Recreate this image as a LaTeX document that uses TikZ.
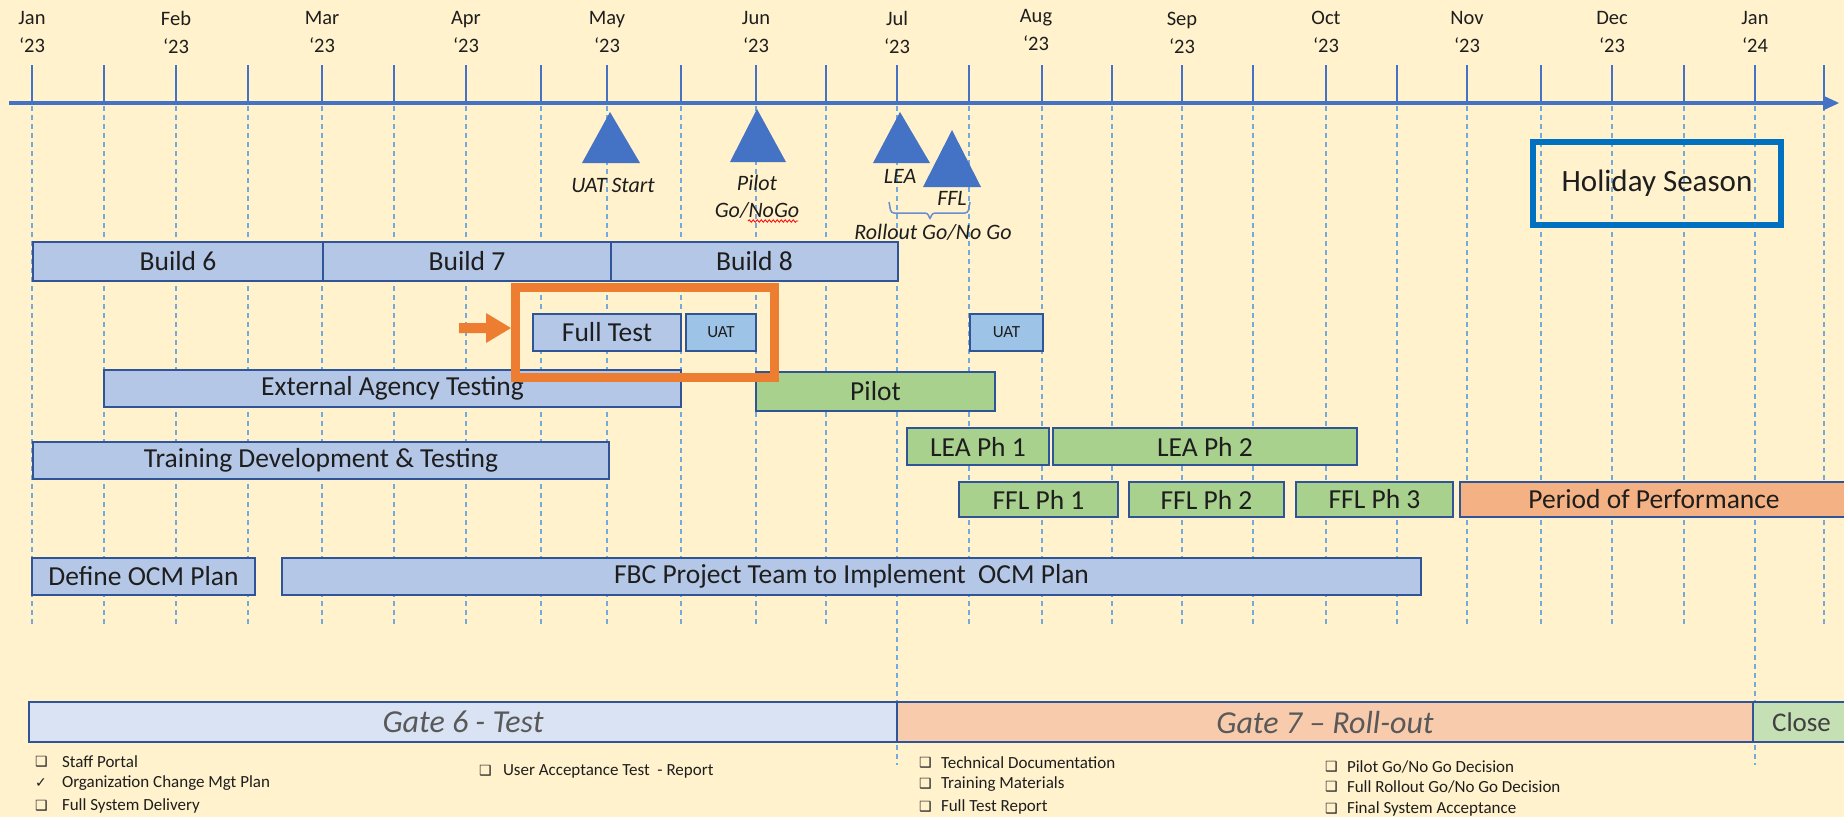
\documentclass[tikz,border=0pt]{standalone}
\usepackage{fontspec}
\setmainfont{Carlito}
\newfontfamily\symfont{DejaVu Sans}
\usetikzlibrary{decorations.pathmorphing}
\definecolor{bg}{RGB}{255,242,204}
\definecolor{axisblue}{RGB}{68,114,196}
\definecolor{dashblue}{RGB}{91,155,213}
\definecolor{edgeblue}{RGB}{47,85,151}
\definecolor{barblue}{RGB}{180,199,231}
\definecolor{uatblue}{RGB}{157,195,230}
\definecolor{bargreen}{RGB}{169,209,142}
\definecolor{barorange}{RGB}{244,177,131}
\definecolor{hiorange}{RGB}{237,125,49}
\definecolor{holblue}{RGB}{0,112,192}
\definecolor{gatesix}{RGB}{218,227,243}
\definecolor{gateseven}{RGB}{248,203,173}
\definecolor{gateclose}{RGB}{197,224,180}
\definecolor{txt}{RGB}{30,30,30}
\definecolor{gatetxt}{RGB}{89,89,89}
\newcommand{\taskbar}[7]{%
  \node[#1, anchor=north west, minimum width={#5-#3}, minimum height={#6-#4}] (#2) at (#3,#4) {#7};}
\begin{document}
\begin{tikzpicture}[x=1pt,y=-1pt,
  every node/.style={inner sep=0pt, outer sep=0pt, text=txt},
  taskbox/.style={draw=edgeblue, line width=2pt, fill=barblue, font=\fontsize{27.5}{33}\selectfont},
  uatbox/.style={taskbox, fill=uatblue, font=\fontsize{17}{20}\selectfont},
  greenbox/.style={taskbox, fill=bargreen},
  orangebox/.style={taskbox, fill=barorange},
  gatebox/.style={draw=edgeblue, line width=2pt, font=\fontsize{32}{38}\selectfont\itshape, text=gatetxt},
  monthlbl/.style={align=center, font=\fontsize{20.5}{28}\selectfont, text=txt},
  mslbl/.style={align=center, font=\fontsize{22}{27}\selectfont\itshape},
  chk/.style={anchor=west, font=\fontsize{17}{20}\selectfont},
  chkbox/.style={anchor=west, font=\symfont\fontsize{14}{16}\selectfont},
  tickline/.style={axisblue, line width=2pt},
  gridline/.style={dashblue!85, line width=2pt, dash pattern=on 5pt off 4pt},
  milestone/.style={fill=axisblue}]
\useasboundingbox (0,0) rectangle (1844,817);
\fill[bg] (0,0) rectangle (1844,817);

% grid lines
\foreach \x in {32,104,176,248,322,394,466,541,607,681,756,826,969,1042,1112,1182,1253,1326,1397,1467,1541,1612,1684,1824}
  {\draw[gridline] (\x,106) -- (\x,627);}
\foreach \x in {897,1755}
  {\draw[gridline] (\x,106) -- (\x,765);}
% ticks above axis
\foreach \x in {32,104,176,248,322,394,466,541,607,681,756,826,897,969,1042,1112,1182,1253,1326,1397,1467,1541,1612,1684,1755,1824}
  {\draw[tickline] (\x,65) -- (\x,103);}
% axis
\coordinate (axstart) at (9,103);
\coordinate (axend) at (1826,103);
\draw[axisblue, line width=4pt] (axstart) -- (axend);
\fill[axisblue] (1823,95.5) -- (1839,103) -- (1823,110.5) -- cycle;

% month labels
\node[monthlbl] (mJan) at (32,32) {Jan\\‘23};
\node[monthlbl] (mFeb) at (176,32) {Feb\\‘23};
\node[monthlbl] (mMar) at (322,32) {Mar\\‘23};
\node[monthlbl] (mApr) at (466,32) {Apr\\‘23};
\node[monthlbl] (mMay) at (607,32) {May\\‘23};
\node[monthlbl] (mJun) at (756,32) {Jun\\‘23};
\node[monthlbl] (mJul) at (897,32) {Jul\\‘23};
\node[monthlbl] (mAug) at (1036,30) {Aug\\‘23};
\node[monthlbl] (mSep) at (1182,33) {Sep\\‘23};
\node[monthlbl] (mOct) at (1326,32) {Oct\\‘23};
\node[monthlbl] (mNov) at (1467,32) {Nov\\‘23};
\node[monthlbl] (mDec) at (1612,32) {Dec\\‘23};
\node[monthlbl] (mJanb) at (1755,32) {Jan\\‘24};

% milestones
\fill[milestone] (582,163) -- (610,112) -- (640,163) -- cycle;
\fill[milestone] (730,162) -- (757,109) -- (786,162) -- cycle;
\fill[milestone] (873,163) -- (900,112) -- (930,163) -- cycle;
\fill[milestone] (923,187) -- (952,130) -- (981,187) -- cycle;
\node[mslbl] (uatstart) at (613,185) {UAT Start};
\node[mslbl] (pilotgo) at (757,196.5) {Pilot\\Go/NoGo};
\draw[red, line width=0.8pt, decorate, decoration={snake, amplitude=1.2pt, segment length=4pt}] (748,221) -- (798,221);
\node[mslbl] (lea) at (900,176) {LEA};
\node[mslbl] (ffl) at (952,198) {FFL};
\node[mslbl] (rollout) at (933,232) {Rollout Go/No Go};
\draw[axisblue!80, line width=1.5pt, rounded corners=3pt] (889,202) -- (891,213) -- (928,213) -- (930,220) -- (932,213) -- (968,213) -- (970,202);

% holiday season
\node[draw=holblue, line width=6pt, minimum width=248, minimum height=83, font=\fontsize{31}{36}\selectfont] (holiday) at (1657,183.5) {Holiday Season};

% task bars
\taskbar{taskbox}{b6}{33}{242}{323}{281}{Build 6}
\taskbar{taskbox}{b7}{323}{242}{611}{281}{Build 7}
\taskbar{taskbox}{b8}{611}{242}{898}{281}{Build 8}
\taskbar{taskbox}{fulltest}{533}{314}{681}{351}{Full Test}
\taskbar{uatbox}{uat1}{686}{314}{756}{351}{UAT}
\taskbar{uatbox}{uat2}{970}{314}{1043}{351}{UAT}
\taskbar{taskbox}{ext}{104}{370}{681}{407}{External Agency Testing}
\taskbar{greenbox}{pilot}{756}{372}{995}{411}{Pilot}
\taskbar{taskbox}{train}{33}{442}{609}{479}{Training Development \& Testing}
\taskbar{greenbox}{lea1}{907}{428}{1049}{465}{LEA Ph 1}
\taskbar{greenbox}{lea2}{1053}{428}{1357}{465}{LEA Ph 2}
\taskbar{greenbox}{ffl1}{959}{482}{1118}{517}{FFL Ph 1}
\taskbar{greenbox}{ffl2}{1129}{482}{1284}{517}{FFL Ph 2}
\taskbar{greenbox}{ffl3}{1296}{482}{1453}{517}{FFL Ph 3}
\taskbar{orangebox}{pop}{1460}{482}{1848}{517}{Period of Performance}
\taskbar{taskbox}{ocm}{32}{558}{255}{595}{Define OCM Plan}
\taskbar{taskbox}{fbc}{282}{558}{1421}{595}{FBC Project Team to Implement\ \ OCM Plan}

% highlight frame and arrow
\node[draw=hiorange, line width=9pt, minimum width=259, minimum height=90] (focus) at (645,332.5) {};
\fill[hiorange] (459,323) -- (486,323) -- (486,313) -- (511,328) -- (486,343) -- (486,333) -- (459,333) -- cycle;

% gates
\taskbar{gatebox, fill=gatesix}{g6}{29}{702}{897}{742}{Gate 6 - Test}
\taskbar{gatebox, fill=gateseven}{g7}{897}{702}{1753}{742}{Gate 7 – Roll-out}
\taskbar{gatebox, fill=gateclose, font=\fontsize{27}{32}\selectfont, text=txt!85}{gclose}{1753}{702}{1850}{742}{Close}

% checklists
\node[chkbox] (cb1) at (35,762) {❑};
\node[chk] (ck1) at (62,762) {Staff Portal};
\node[chkbox] (cb2) at (35,783) {✓};
\node[chk] (ck2) at (62,783) {Organization Change Mgt Plan};
\node[chkbox] (cb3) at (35,806) {❑};
\node[chk] (ck3) at (62,806) {Full System Delivery};
\node[chkbox] (cb4) at (479,771) {❑};
\node[chk] (ck4) at (503,771) {User Acceptance Test\ \ - Report};
\node[chkbox] (cb5) at (919,763) {❑};
\node[chk] (ck5) at (941,763) {Technical Documentation};
\node[chkbox] (cb6) at (919,784) {❑};
\node[chk] (ck6) at (941,784) {Training Materials};
\node[chkbox] (cb7) at (919,807) {❑};
\node[chk] (ck7) at (941,807) {Full Test Report};
\node[chkbox] (cb8) at (1325,767) {❑};
\node[chk] (ck8) at (1347,767) {Pilot Go/No Go Decision};
\node[chkbox] (cb9) at (1325,787) {❑};
\node[chk] (ck9) at (1347,787) {Full Rollout Go/No Go Decision};
\node[chkbox] (cb10) at (1325,809) {❑};
\node[chk] (ck10) at (1347,809) {Final System Acceptance};
\end{tikzpicture}
\end{document}
